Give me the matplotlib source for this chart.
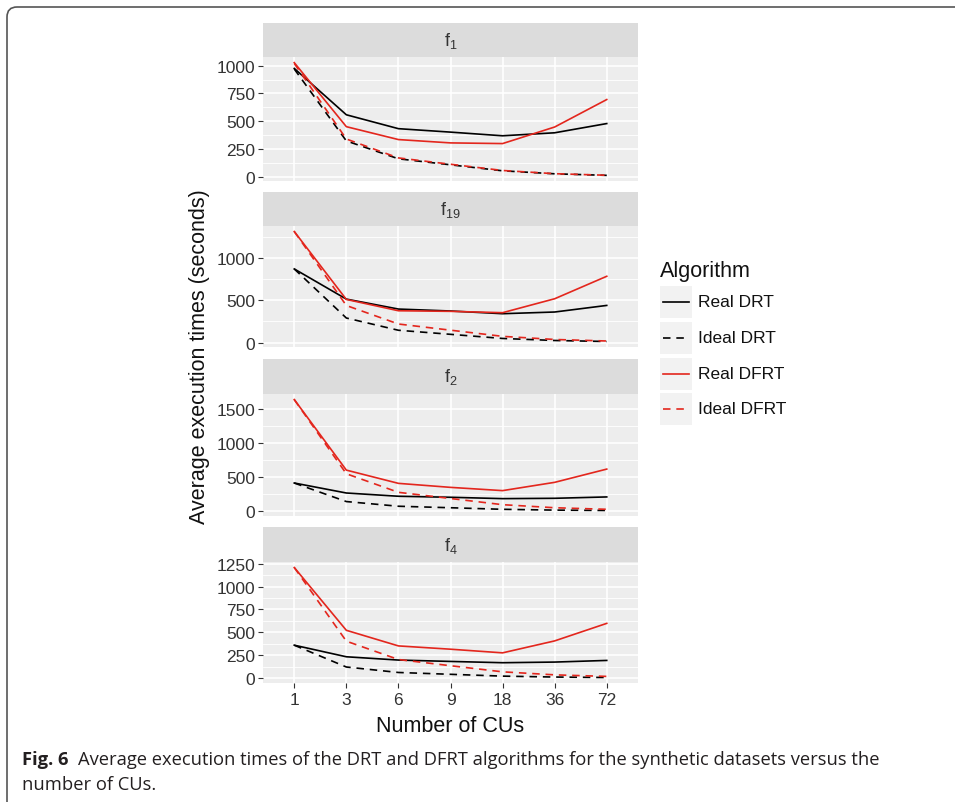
import matplotlib
matplotlib.use("Agg")
import matplotlib.pyplot as plt
from matplotlib.patches import FancyBboxPatch, Rectangle
from matplotlib.lines import Line2D
from matplotlib.transforms import IdentityTransform
import numpy as np

# ---------------- data ----------------
cus = ["1", "3", "6", "9", "18", "36", "72"]
panel_labels = [r"$\mathregular{f_1}$", r"$\mathregular{f_{19}}$", r"$\mathregular{f_2}$", r"$\mathregular{f_4}$"]
series_names = ["Real DRT", "Ideal DRT", "Real DFRT", "Ideal DFRT"]

f1_real_drt = [975, 558, 433, 402, 369, 396, 479]
f1_ideal_drt = [970, 323, 162, 108, 54, 27, 13]
f1_real_dfrt = [1027, 451, 335, 305, 299, 448, 695]
f1_ideal_dfrt = [1020, 340, 170, 113, 57, 28, 14]

f19_real_drt = [871, 514, 396, 373, 341, 361, 439]
f19_ideal_drt = [871, 290, 145, 97, 48, 24, 12]
f19_real_dfrt = [1314, 510, 376, 369, 353, 518, 784]
f19_ideal_dfrt = [1314, 438, 219, 146, 73, 36, 18]

f2_real_drt = [410, 263, 215, 200, 180, 185, 205]
f2_ideal_drt = [410, 137, 68, 46, 23, 11, 6]
f2_real_dfrt = [1639, 600, 405, 346, 298, 420, 615]
f2_ideal_dfrt = [1639, 546, 273, 182, 91, 46, 23]

f4_real_drt = [359, 232, 196, 181, 167, 174, 192]
f4_ideal_drt = [359, 120, 60, 40, 20, 10, 5]
f4_real_dfrt = [1210, 522, 351, 315, 275, 406, 598]
f4_ideal_dfrt = [1210, 403, 202, 134, 67, 34, 17]

panel_data = [
    [f1_real_drt, f1_ideal_drt, f1_real_dfrt, f1_ideal_dfrt],
    [f19_real_drt, f19_ideal_drt, f19_real_dfrt, f19_ideal_dfrt],
    [f2_real_drt, f2_ideal_drt, f2_real_dfrt, f2_ideal_dfrt],
    [f4_real_drt, f4_ideal_drt, f4_real_dfrt, f4_ideal_dfrt],
]
yticks = [
    [0, 250, 500, 750, 1000],
    [0, 500, 1000],
    [0, 500, 1000, 1500],
    [0, 250, 500, 750, 1000, 1250],
]

RED = "#e3261d"
BLACK = "#000000"
colors = [BLACK, BLACK, RED, RED]
styles = ["solid", "dashed", "solid", "dashed"]

# ---------------- figure ----------------
W, H = 955, 803
plt.rcParams["font.family"] = ["Liberation Sans", "DejaVu Sans"]
fig = plt.figure(figsize=(W / 100, H / 100), dpi=100)

def fx(px):
    return px / W

def fy(py):
    return 1 - py / H

PANEL_BG = "#ededed"
STRIP_BG = "#dcdcdc"
TICK_COL = "#333333"

px_left, px_right = 263, 638
layout = [(24, 58, 182), (193, 227, 348), (360, 395, 517), (528, 563, 684)]

axes = []
for i, (st, pt, pb) in enumerate(layout):
    ax = fig.add_axes([fx(px_left), fy(pb), fx(px_right - px_left), (pb - pt) / H])
    ax.set_facecolor(PANEL_BG)
    x = np.arange(len(cus)) + 1
    allv = np.concatenate([np.array(s) for s in panel_data[i]])
    lo, hi = allv.min(), allv.max()
    pad = 0.05 * (hi - lo)
    ax.set_ylim(lo - pad, hi + pad)
    ax.set_xlim(0.4, len(cus) + 0.6)
    yt = yticks[i]
    step = yt[1] - yt[0]
    minors = [v + step / 2 for v in [yt[0] - step] + yt]
    for m in minors:
        ax.axhline(m, color="white", lw=0.6, zorder=0.5)
    for v in yt:
        ax.axhline(v, color="white", lw=1.2, zorder=0.6)
    for xv in x:
        ax.axvline(xv, color="white", lw=1.2, zorder=0.6)
    for s, c, ls in zip(panel_data[i], colors, styles):
        line, = ax.plot(x, s, color=c, lw=1.2, zorder=2)
        if ls == "dashed":
            line.set_dashes((4.5, 3.5))
    ax.set_yticks(yt)
    ax.set_yticklabels([str(v) for v in yt])
    ax.set_xticks(x)
    if i == len(layout) - 1:
        ax.set_xticklabels(cus)
        ax.tick_params(axis="x", length=3.5, width=0.8, color=TICK_COL,
                       labelsize=12.5, labelcolor=TICK_COL, pad=3)
    else:
        ax.tick_params(axis="x", length=0, labelbottom=False)
    ax.tick_params(axis="y", length=3.5, width=0.8, color=TICK_COL,
                   labelsize=12.5, labelcolor=TICK_COL, pad=2)
    ax.grid(False)
    for sp in ax.spines.values():
        sp.set_visible(False)
    sax = fig.add_axes([fx(px_left), fy(pt), fx(px_right - px_left), (pt - st) / H])
    sax.set_facecolor(STRIP_BG)
    sax.set_xticks([])
    sax.set_yticks([])
    for sp in sax.spines.values():
        sp.set_visible(False)
    sax.text(0.5, 0.5, panel_labels[i], ha="center", va="center",
             fontsize=13, color="#333333", transform=sax.transAxes)
    axes.append(ax)

# axis titles
fig.text(fx(450), fy(727), "Number of CUs", ha="center", va="center",
         fontsize=15.5, color="#111111")
fig.text(fx(199), fy(357), "Average execution times (seconds)", ha="center",
         va="center", rotation=90, fontsize=15.5, color="#111111")

# legend
fig.text(fx(660), fy(271), "Algorithm", ha="left", va="center", fontsize=15.5,
         color="#111111")
key_rows = [303, 339, 375, 410]
for name, c, ls, yc in zip(series_names, colors, styles, key_rows):
    fig.patches.append(Rectangle((fx(660), fy(yc + 16)), fx(32), 32 / H,
                                 transform=fig.transFigure, facecolor="#f2f2f2",
                                 edgecolor="none"))
    ln = Line2D([fx(663), fx(689)], [fy(yc), fy(yc)], transform=fig.transFigure,
                color=c, lw=1.2)
    if ls == "dashed":
        ln.set_dashes((4.5, 3.5))
    fig.lines.append(ln)
    fig.text(fx(698), fy(yc), name, ha="left", va="center", fontsize=12.5,
             color="#111111")

# frame
frame = FancyBboxPatch((7, -40), 1000, H - 8 + 40,
                       boxstyle="round,pad=0,rounding_size=10",
                       transform=IdentityTransform(), facecolor="none",
                       edgecolor="#555555", lw=1.2)
fig.patches.append(frame)

# caption
cap_font = ["Liberation Sans Narrow", "Open Sans", "DejaVu Sans"]
t1 = fig.text(fx(22), fy(760), "Fig. 6", ha="left", va="center", fontsize=13.2,
              fontweight="bold", color="#231f20", family=cap_font)
fig.canvas.draw()
bb = t1.get_window_extent()
fig.text((bb.x1 + 9) / W, fy(760),
         "Average execution times of the DRT and DFRT algorithms for the synthetic datasets versus the",
         ha="left", va="center", fontsize=13.2, color="#231f20", family=cap_font)
fig.text(fx(22), fy(785), "number of CUs.", ha="left", va="center", fontsize=13.2,
         color="#231f20", family=cap_font)

fig.savefig("out.png", dpi=100)
